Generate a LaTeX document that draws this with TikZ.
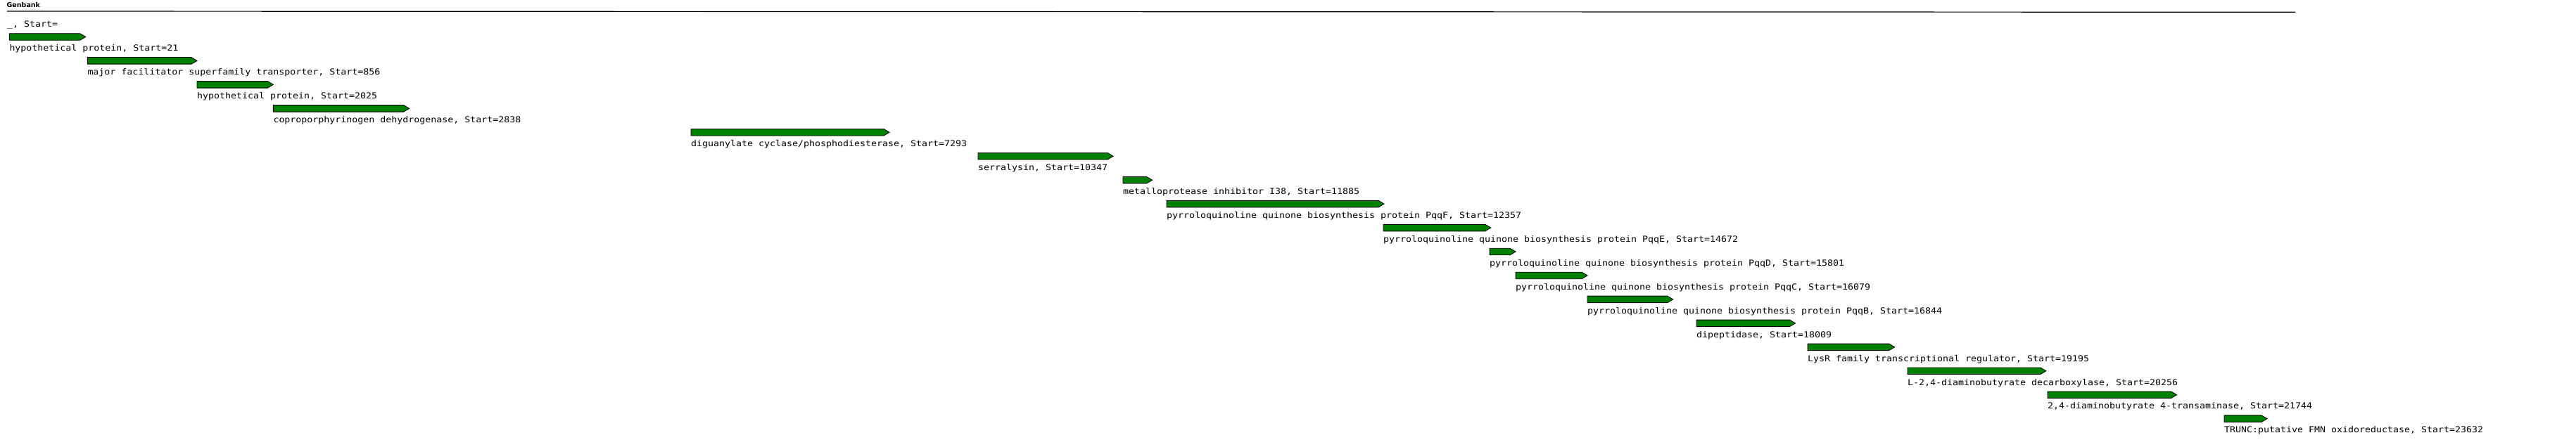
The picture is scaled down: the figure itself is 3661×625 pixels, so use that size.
\documentclass[tikz,border=0pt]{standalone}
\usepackage{fontspec}
\newfontfamily\monof[FakeStretch=1.12]{DejaVu Sans Mono}
\newfontfamily\titlef{DejaVu Sans}
\definecolor{genegreen}{RGB}{0,128,0}
\tikzset{
  genearrow/.style={fill=genegreen, draw=black, line width=0.9pt, line join=miter},
  genelabel/.style={anchor=base west, inner sep=0pt, font=\monof\fontsize{11.86}{12}\selectfont},
  titlelabel/.style={anchor=base west, inner sep=0pt, font=\titlef\bfseries\fontsize{9.5}{10}\selectfont},
  ruleline/.style={line width=1.2pt, draw=black}
}
\begin{document}
\begin{tikzpicture}[x=1pt, y=-1pt]
\useasboundingbox (0,0) rectangle (3661,625);
\node[titlelabel] (title) at (9.5,10.2) {Genbank};
\coordinate (ruleL) at (10,16);
\coordinate (ruleR) at (3262,17.3);
\draw[ruleline] (ruleL) -- (ruleR);
\node[genelabel] (lab0) at (10,38.2) {\_, Start=};
\foreach \i/\xa/\xb/\lab in {
 1/13.3/121.7/{hypothetical protein, Start=21},
 2/124.3/280/{major facilitator superfamily transporter, Start=856},
 3/280/388.3/{hypothetical protein, Start=2025},
 4/388.3/581.7/{coproporphyrinogen dehydrogenase, Start=2838},
 5/982/1264/{diguanylate cyclase/phosphodiesterase, Start=7293},
 6/1390/1582/{serralysin, Start=10347},
 7/1596/1637.5/{metalloprotease inhibitor I38, Start=11885},
 8/1658/1967/{pyrroloquinoline quinone biosynthesis protein PqqF, Start=12357},
 9/1966/2118.7/{pyrroloquinoline quinone biosynthesis protein PqqE, Start=14672},
 10/2117/2154/{pyrroloquinoline quinone biosynthesis protein PqqD, Start=15801},
 11/2154/2256/{pyrroloquinoline quinone biosynthesis protein PqqC, Start=16079},
 12/2256/2377.6/{pyrroloquinoline quinone biosynthesis protein PqqB, Start=16844},
 13/2411/2551.5/{dipeptidase, Start=18009},
 14/2569/2692.6/{LysR family transcriptional regulator, Start=19195},
 15/2711/2907.8/{L-2,4-diaminobutyrate decarboxylase, Start=20256},
 16/2910/3093.5/{2,4-diaminobutyrate 4-transaminase, Start=21744},
 17/3161/3222/{TRUNC:putative FMN oxidoreductase, Start=23632}}{
  \pgfmathsetmacro\t{47.7+33.95*(\i-1)}
  \pgfmathsetmacro\m{\t+4.75}
  \pgfmathsetmacro\b{\t+9.5}
  \pgfmathsetmacro\h{\xb-8}
  \pgfmathsetmacro\yl{\t+25}
  \draw[genearrow] (\xa,\t) -- (\h,\t) -- (\xb,\m) -- (\h,\b) -- (\xa,\b) -- cycle;
  \node[genelabel] (lab\i) at (\xa,\yl) {\lab};
}
\end{tikzpicture}
\end{document}
